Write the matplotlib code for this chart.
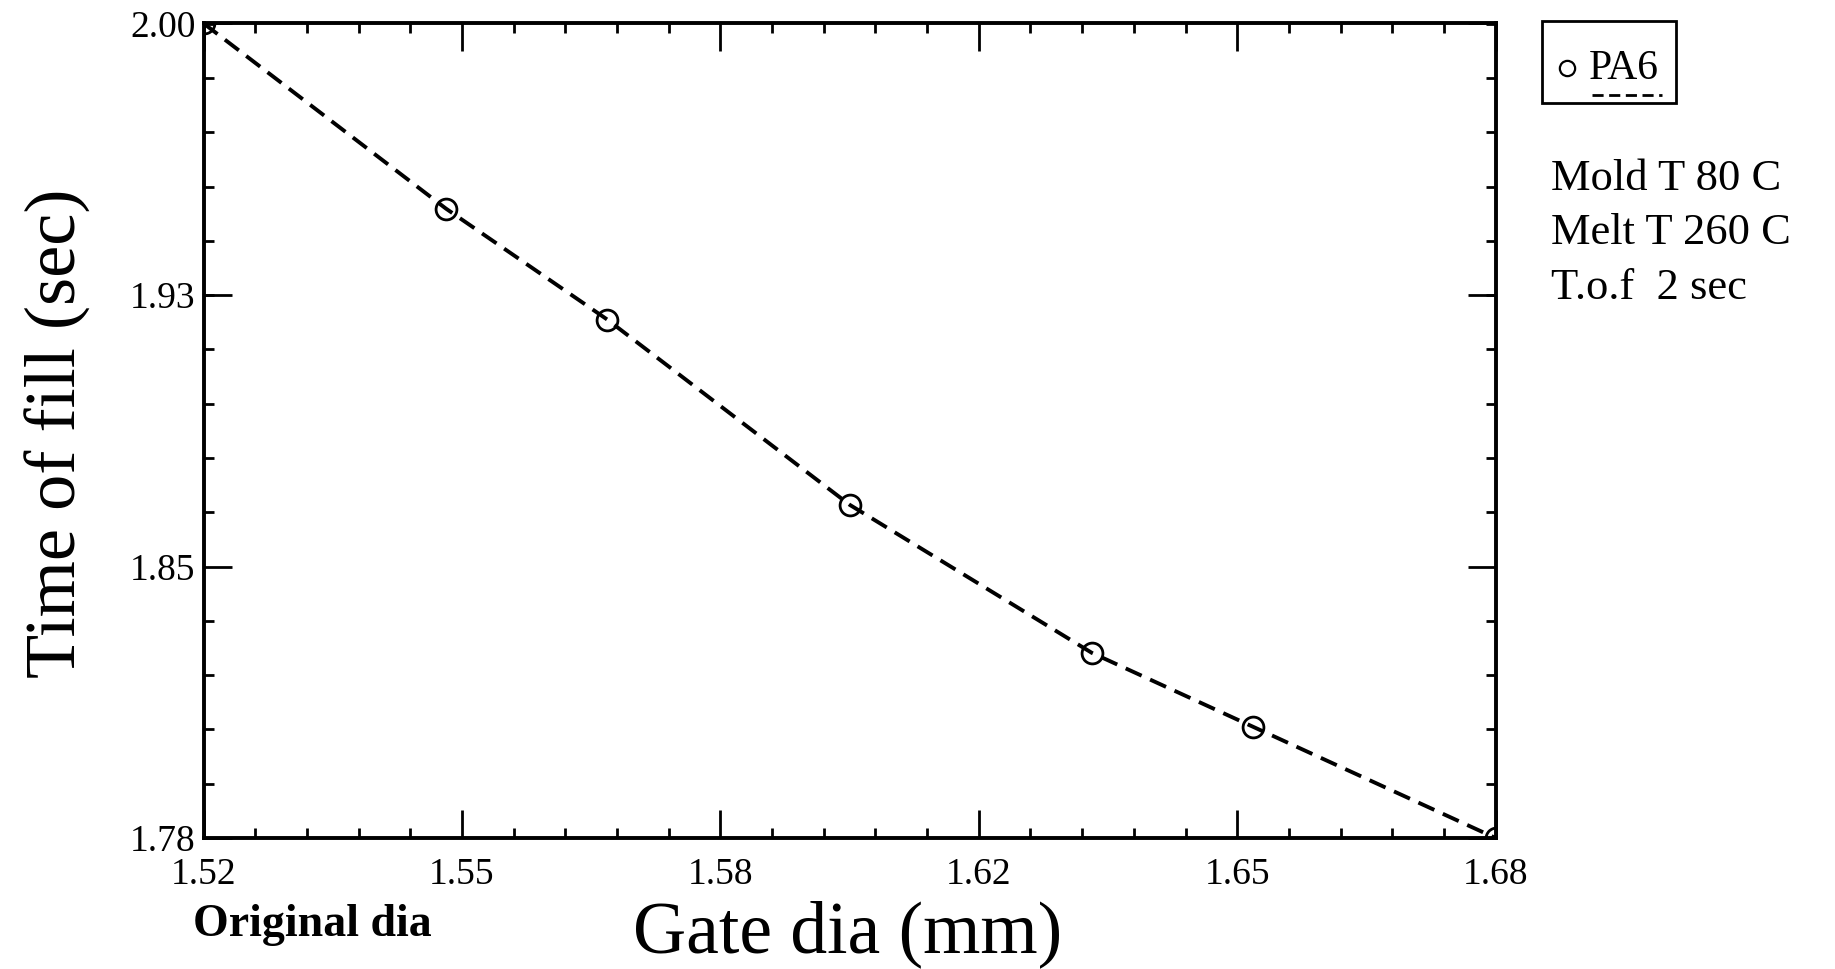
import matplotlib.pyplot as plt
from matplotlib.lines import Line2D
from matplotlib.patches import Rectangle
from matplotlib.ticker import FixedLocator, AutoMinorLocator

plt.rcParams['font.family'] = ['Liberation Serif', 'DejaVu Serif']

# data
gate_dia = [1.52, 1.55, 1.57, 1.60, 1.63, 1.65, 1.68]
time_fill = [2.00, 1.95, 1.92, 1.87, 1.83, 1.81, 1.78]

x_ticks = [1.52, 1.552, 1.584, 1.616, 1.648, 1.68]
x_labels = ['1.52', '1.55', '1.58', '1.62', '1.65', '1.68']
y_ticks = [1.78, 1.8533, 1.9267, 2.00]
y_labels = ['1.78', '1.85', '1.93', '2.00']

notes = ['Mold T 80 C', 'Melt T 260 C', 'T.o.f  2 sec']

W, H = 1835, 969
fig = plt.figure(figsize=(W / 100, H / 100), dpi=100)
ax = fig.add_axes([203.6 / W, 1 - 838 / H, (1495.6 - 203.6) / W, (838 - 23.4) / H])

ax.plot(gate_dia, time_fill, color='black', lw=2.8, dashes=(4.5, 2.4),
        marker='o', ms=15, mfc='none', mec='black', mew=2)

ax.set_xlim(1.52, 1.68)
ax.set_ylim(1.78, 2.00)
ax.xaxis.set_major_locator(FixedLocator(x_ticks))
ax.yaxis.set_major_locator(FixedLocator(y_ticks))
ax.set_xticklabels(x_labels)
ax.set_yticklabels(y_labels)
ax.xaxis.set_minor_locator(AutoMinorLocator(5))
ax.yaxis.set_minor_locator(AutoMinorLocator(5))
ax.tick_params(which='both', direction='in', top=True, right=True, width=2, labelsize=27)
ax.tick_params(which='major', length=20)
ax.tick_params(axis='x', which='major', pad=14)
ax.tick_params(axis='y', which='major', pad=6)
ax.tick_params(which='minor', length=7)
for s in ax.spines.values():
    s.set_linewidth(2.8)

ax.set_xlabel('Gate dia (mm)', fontsize=53, va='center')
ax.xaxis.set_label_coords(0.4988, -0.118)
ax.set_ylabel('Time of fill (sec)', fontsize=52, va='center')
ax.yaxis.set_label_coords(-0.113, 0.497)

fig.text(193 / W, 1 - 925 / H, 'Original dia', fontsize=33, fontweight='bold', va='center')

# legend box
fig.patches.append(Rectangle((1542 / W, 1 - 103 / H), 134 / W, 82 / H,
                             transform=fig.transFigure, fill=False, lw=2, ec='black'))
fig.lines.append(Line2D([1567 / W], [1 - 68 / H], transform=fig.transFigure,
                        marker='o', ms=11, mfc='none', mec='black', mew=1.6))
fig.text(1589 / W, 1 - 79 / H, 'PA6', fontsize=30, va='baseline')
fig.lines.append(Line2D([1592 / W, 1662 / W], [1 - 95 / H, 1 - 95 / H], transform=fig.transFigure,
                        color='black', lw=2, dashes=(4, 2)))

for i, t in enumerate(notes):
    fig.text(1551 / W, 1 - (179 + 54.5 * i) / H, t, fontsize=32, va='center')

fig.savefig('out.png', dpi=100, facecolor='white')
